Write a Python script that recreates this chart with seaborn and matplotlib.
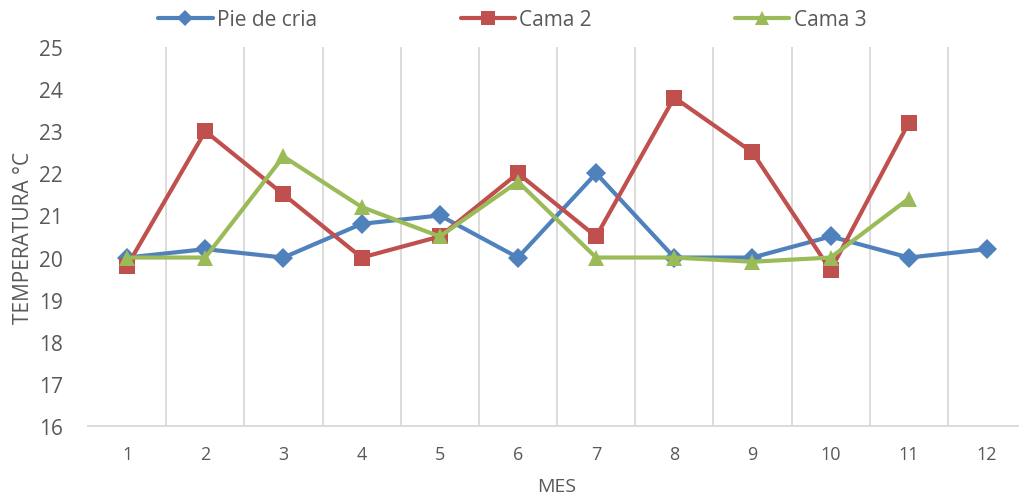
#!/usr/bin/env python3

import numpy as np
import pandas as pd
import matplotlib
matplotlib.use("Agg")
import matplotlib.pyplot as plt
import seaborn as sns

MESES = [1, 2, 3, 4, 5, 6, 7, 8, 9, 10, 11, 12]
PIE_DE_CRIA = [20.0, 20.2, 20.0, 20.8, 21.0, 20.0, 22.0, 20.0, 20.0, 20.5, 20.0, 20.2]
CAMA_2 = [19.8, 23.0, 21.5, 20.0, 20.5, 22.0, 20.5, 23.8, 22.5, 19.7, 23.2, np.nan]
CAMA_3 = [20.0, 20.0, 22.4, 21.2, 20.5, 21.8, 20.0, 20.0, 19.9, 20.0, 21.4, np.nan]
Y_TICKS = [16, 17, 18, 19, 20, 21, 22, 23, 24, 25]

TEXT_COLOR = "#595959"
GRID_COLOR = "#D9D9D9"


def build_frame() -> pd.DataFrame:
    return pd.DataFrame({
        "mes": MESES,
        "Pie de cria": PIE_DE_CRIA,
        "Cama 2": CAMA_2,
        "Cama 3": CAMA_3,
    })


def main():
    sns.set_style("white")
    plt.rcParams["font.family"] = ["Open Sans", "DejaVu Sans"]

    df = build_frame()

    fig = plt.figure(figsize=(10.19, 5.02), dpi=100)
    ax = fig.add_axes([0.0864, 0.1494, 0.9205, 0.755])

    series = [
        ("Pie de cria", "#4F81BD", "D", 10),
        ("Cama 2", "#C0504D", "s", 12),
        ("Cama 3", "#9BBB59", "^", 12),
    ]
    for name, color, marker, ms in series:
        sub = df[["mes", name]].dropna()
        sns.lineplot(data=sub, x="mes", y=name, ax=ax, color=color,
                     marker=marker, markersize=ms, markeredgewidth=0,
                     linewidth=3, label=name)

    ax.set_xlim(0.5, 12.5)
    ax.set_ylim(16, 25)
    ax.set_yticks(Y_TICKS)
    ax.set_xticks(MESES)
    ax.set_xticklabels([str(m) for m in MESES])

    # vertical gridlines between categories, like Excel
    for b in np.arange(1.5, 12.5, 1.0):
        ax.axvline(b, color=GRID_COLOR, linewidth=1.3, zorder=0)

    for side in ["top", "right", "left"]:
        ax.spines[side].set_visible(False)
    ax.spines["bottom"].set_color(GRID_COLOR)
    ax.spines["bottom"].set_linewidth(1.3)

    ax.tick_params(axis="y", labelsize=15, colors=TEXT_COLOR, length=0, pad=18)
    ax.tick_params(axis="x", labelsize=13, colors=TEXT_COLOR, length=0, pad=14)

    ax.set_xlabel("MES", fontsize=14, color=TEXT_COLOR)
    ax.xaxis.set_label_coords(0.5, -0.135)
    ax.set_ylabel("TEMPERATURA °C", fontsize=15, color=TEXT_COLOR)
    ax.yaxis.set_label_coords(-0.058, 0.5)

    leg = ax.legend(loc="upper left", bbox_to_anchor=(0.055, 1.15), ncol=3,
                    frameon=False, fontsize=15, columnspacing=6.9,
                    handlelength=2.6, handletextpad=0.2, markerscale=0.8)
    for t in leg.get_texts():
        t.set_color(TEXT_COLOR)

    fig.savefig("out.png", dpi=100)
    plt.close(fig)


if __name__ == "__main__":
    main()
